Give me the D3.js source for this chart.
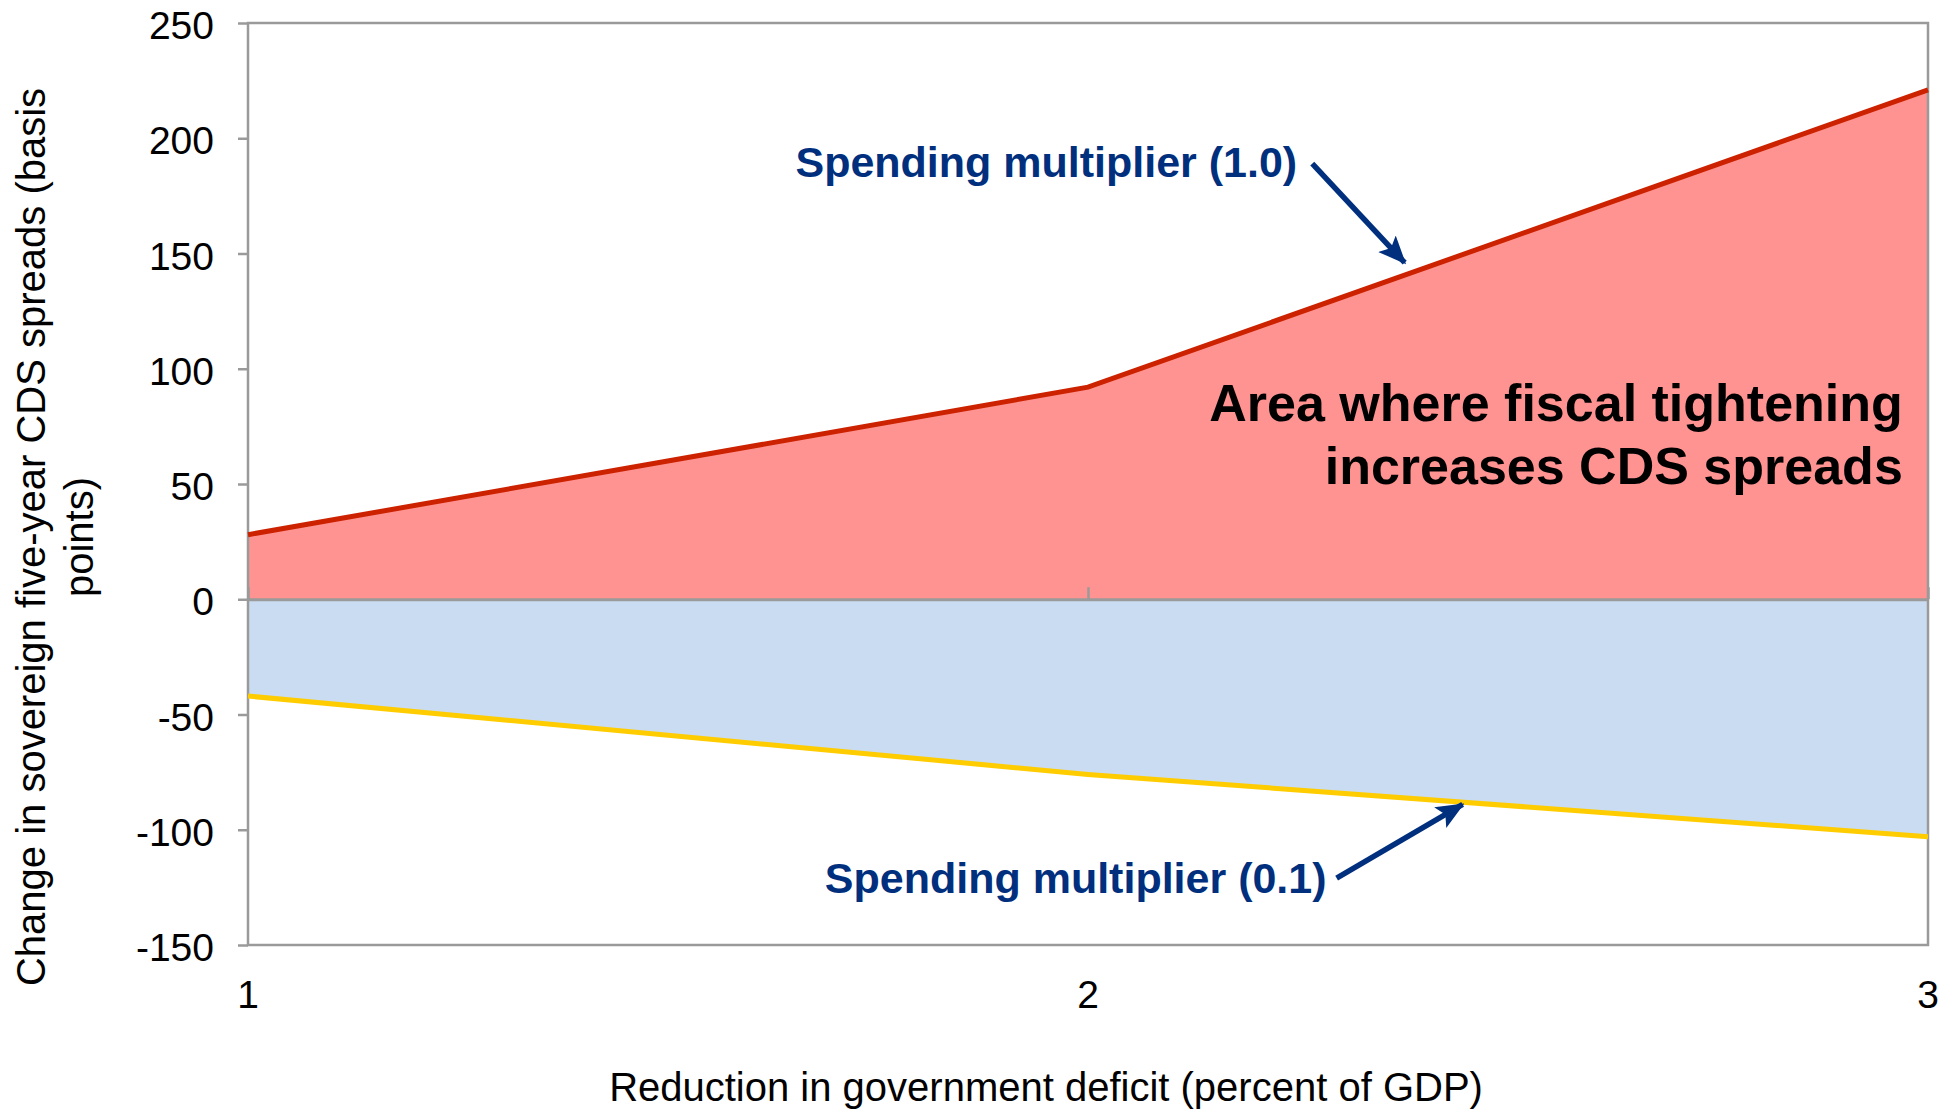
<!DOCTYPE html>
<html>
<head>
<meta charset="utf-8">
<script src="https://cdn.jsdelivr.net/npm/d3@7"></script>
<style>
  html, body { margin: 0; padding: 0; background: #fff; }
  svg { display: block; }
</style>
</head>
<body>
<svg id="chart" width="1955" height="1111"></svg>
<script>
// Fiscal tightening vs change in sovereign CDS spreads, two spending multipliers.

const deficitCuts = [1, 2, 3];
const highMultiplier = [28, 92, 221];   // spending multiplier 1.0
const lowMultiplier = [-42, -76, -103]; // spending multiplier 0.1
const yTicks = [250, 200, 150, 100, 50, 0, -50, -100, -150];
const xTicks = [1, 2, 3];

const W = 1955, H = 1111;
const LEFT = 248, RIGHT = 1928, TOP = 23, BOTTOM = 945;
const FONT = "'Liberation Sans', Arial, Helvetica, sans-serif";
const NAVY = "#002f7e", GRAY = "#9a9a9a";

const svg = d3.select("#chart");

const x = d3.scaleLinear().domain([1, 3]).range([LEFT, RIGHT]);
const y = d3.scaleLinear().domain([-150, 250]).range([BOTTOM, TOP]);

const high = deficitCuts.map((d, i) => ({ x: d, v: highMultiplier[i] }));
const low = deficitCuts.map((d, i) => ({ x: d, v: lowMultiplier[i] }));

const area = d3.area().x((d) => x(d.x)).y0(y(0)).y1((d) => y(d.v));
const line = d3.line().x((d) => x(d.x)).y((d) => y(d.v));

// fills
svg.append("path").attr("d", area(high)).attr("fill", "#ff9391");
svg.append("path").attr("d", area(low)).attr("fill", "#c9dcf2");

// frame
svg.append("rect")
  .attr("x", LEFT).attr("y", TOP)
  .attr("width", RIGHT - LEFT).attr("height", BOTTOM - TOP)
  .attr("fill", "none").attr("stroke", GRAY).attr("stroke-width", 2.5);

// y axis ticks + labels (plain hyphen for negatives, as in the original)
const yAxis = d3.axisLeft(y).tickValues(yTicks).tickSize(10).tickSizeOuter(0)
  .tickPadding(24).tickFormat((d) => String(d));
svg.append("g").attr("transform", `translate(${LEFT},0)`).call(yAxis)
  .call((s) => s.select(".domain").remove())
  .call((s) => s.selectAll("line").attr("stroke", GRAY).attr("stroke-width", 2.5))
  .call((s) => s.selectAll("text").attr("dy", "0.4em")
    .style("font", `39px ${FONT}`).style("fill", "#000"));

// zero line with category ticks pointing up
const zero = d3.axisTop(x).tickValues(xTicks).tickSize(12).tickSizeOuter(0).tickFormat("");
svg.append("g").attr("transform", `translate(0,${y(0)})`).call(zero)
  .call((s) => s.select(".domain").attr("stroke", GRAY).attr("stroke-width", 3))
  .call((s) => s.selectAll("line").attr("stroke", GRAY).attr("stroke-width", 2.5));

// x labels below the plot
svg.append("g").selectAll("text").data(xTicks).enter().append("text")
  .attr("x", (d) => x(d)).attr("y", 1008)
  .attr("text-anchor", "middle")
  .style("font", `39px ${FONT}`).style("fill", "#000")
  .text((d) => d);

// series lines
svg.append("path").attr("d", line(high)).attr("fill", "none")
  .attr("stroke", "#cc2200").attr("stroke-width", 5);
svg.append("path").attr("d", line(low)).attr("fill", "none")
  .attr("stroke", "#ffcc00").attr("stroke-width", 5);

// axis titles
svg.append("text")
  .attr("x", 1046).attr("y", 1101)
  .attr("text-anchor", "middle")
  .style("font", `40px ${FONT}`).style("fill", "#000")
  .text("Reduction in government deficit (percent of GDP)");

const yTitle = svg.append("text")
  .attr("transform", "translate(0,537) rotate(-90)")
  .attr("text-anchor", "middle")
  .style("font", `40px ${FONT}`).style("fill", "#000");
yTitle.append("tspan").attr("x", 0).attr("y", 31).attr("dy", "0.35em")
  .text("Change in sovereign five-year CDS spreads (basis");
yTitle.append("tspan").attr("x", 0).attr("y", 79).attr("dy", "0.35em")
  .text("points)");

// arrowhead
svg.append("defs").append("marker")
  .attr("id", "head").attr("markerUnits", "userSpaceOnUse")
  .attr("viewBox", "0 -13 28 26").attr("refX", 26).attr("refY", 0)
  .attr("markerWidth", 28).attr("markerHeight", 26).attr("orient", "auto")
  .append("path").attr("d", "M0,-12L28,0L0,12L6,0Z").attr("fill", NAVY);

// annotations (placed in data units)
svg.append("text")
  .attr("x", x(2.249)).attr("y", y(183))
  .attr("text-anchor", "end")
  .style("font", `bold 43px ${FONT}`).style("fill", NAVY)
  .text("Spending multiplier (1.0)");
svg.append("line")
  .attr("x1", x(2.267)).attr("y1", y(189)).attr("x2", x(2.377)).attr("y2", y(146))
  .attr("stroke", NAVY).attr("stroke-width", 5.5).attr("marker-end", "url(#head)");

svg.append("text")
  .attr("x", x(2.284)).attr("y", y(-127.3))
  .attr("text-anchor", "end")
  .style("font", `bold 43px ${FONT}`).style("fill", NAVY)
  .text("Spending multiplier (0.1)");
svg.append("line")
  .attr("x1", x(2.296)).attr("y1", y(-121)).attr("x2", x(2.446)).attr("y2", y(-89))
  .attr("stroke", NAVY).attr("stroke-width", 5.5).attr("marker-end", "url(#head)");

const big = svg.append("text")
  .attr("text-anchor", "end")
  .style("font", `bold 52px ${FONT}`).style("fill", "#000");
big.append("tspan").attr("x", x(2.970)).attr("y", y(77.4)).text("Area where fiscal tightening");
big.append("tspan").attr("x", x(2.970)).attr("y", y(50)).text("increases CDS spreads");
</script>
</body>
</html>
